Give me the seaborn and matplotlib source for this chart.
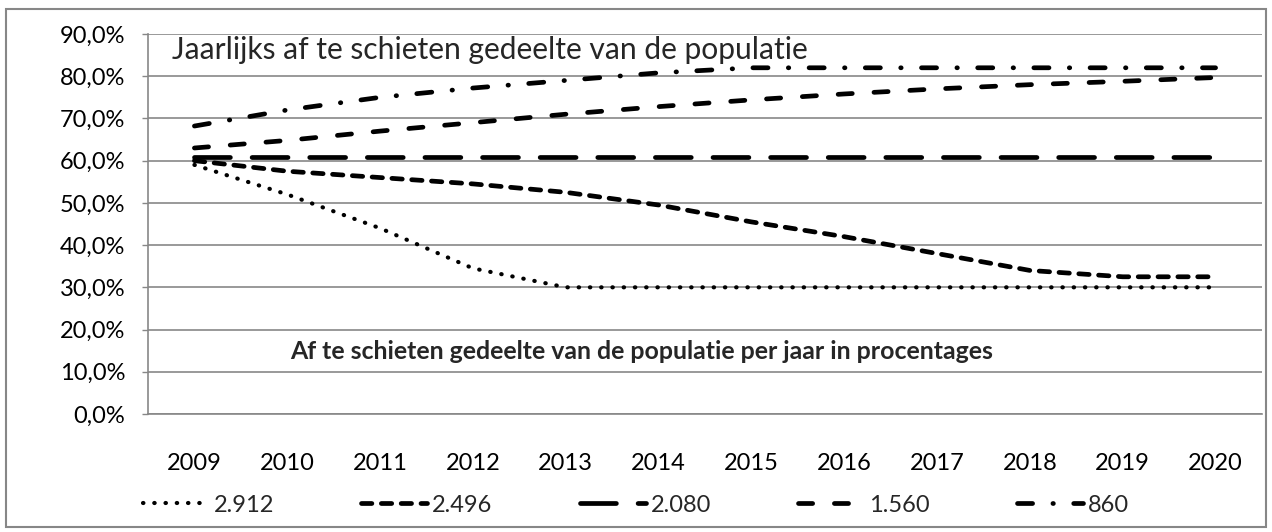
import numpy as np
import pandas as pd
import seaborn as sns
import matplotlib.pyplot as plt
from matplotlib.patches import Rectangle
from matplotlib.ticker import FixedLocator, FuncFormatter

sns.set_style("white")
plt.rcParams['font.family'] = ['Lato', 'DejaVu Sans']

years = ["2009", "2010", "2011", "2012", "2013", "2014",
         "2015", "2016", "2017", "2018", "2019", "2020"]
s_2912 = [59.0, 52.0, 44.0, 34.5, 30.0, 30.0, 30.0, 30.0, 30.0, 30.0, 30.0, 30.0]
s_2496 = [60.0, 57.5, 56.0, 54.5, 52.5, 49.5, 45.5, 42.0, 38.0, 34.0, 32.5, 32.5]
s_2080 = [60.8, 60.8, 60.8, 60.8, 60.8, 60.8, 60.8, 60.8, 60.8, 60.8, 60.8, 60.8]
s_1560 = [63.0, 64.8, 67.0, 69.0, 71.0, 72.8, 74.4, 75.8, 77.0, 78.0, 78.8, 79.7]
s_860 = [68.2, 72.0, 75.0, 77.2, 79.0, 80.8, 82.0, 82.0, 82.0, 82.0, 82.0, 82.0]

labels = ["2.912", "2.496", "2.080", "1.560", "860"]
series = [s_2912, s_2496, s_2080, s_1560, s_860]
widths = [3.0, 3.4, 3.4, 3.4, 3.4]
dash_styles = [
    (0, (0.1, 2.6)),
    (0, (2.2, 2.0)),
    (0, (7.6, 4.6)),
    (0, (3.0, 4.6)),
    (0, (3.2, 4.3, 0.1, 4.3)),
]

grey = "#878787"

fig = plt.figure(figsize=(12.72, 5.32), dpi=100)
ax = fig.add_axes([148 / 1272, 1 - 414 / 532, 1114 / 1272, 380 / 532])

for lab, vals, lw, ls in zip(labels, series, widths, dash_styles):
    df = pd.DataFrame({"year": years, "value": vals})
    sns.lineplot(data=df, x="year", y="value", ax=ax, color="black",
                 linewidth=lw, linestyle=ls, label=lab,
                 dash_capstyle="round", solid_capstyle="round")

ax.set_xlim(-0.5, len(years) - 0.5)
ax.set_ylim(0, 90)
ax.set_yticks(np.arange(0, 91, 10))
ax.yaxis.set_major_formatter(FuncFormatter(lambda v, p: f"{v:.1f}%".replace(".", ",")))
ax.grid(axis="y", color=grey, linewidth=1.2)
ax.set_axisbelow(True)
ax.set_xlabel("")
ax.set_ylabel("")

ax.xaxis.set_minor_locator(FixedLocator(np.arange(-0.5, len(years), 1.0)))
ax.tick_params(axis="x", which="major", length=0, pad=28, labelsize=17, colors="black")
ax.tick_params(axis="x", which="minor", length=7, width=1, color=grey, direction="out")
ax.tick_params(axis="y", which="major", length=4.5, width=1, color=grey, pad=12,
               labelsize=17, labelcolor="black")
ax.tick_params(axis="both", bottom=True, left=True)

for side in ["top", "right"]:
    ax.spines[side].set_visible(False)
for side in ["left", "bottom"]:
    ax.spines[side].set_color(grey)
    ax.spines[side].set_linewidth(1.2)

ax.text(24 / 1114, 86.3 / 90, "Jaarlijks af te schieten gedeelte van de populatie",
        transform=ax.transAxes, ha="left", va="center", fontsize=21.6)
ax.text(142 / 1114, 14.7 / 90, "Af te schieten gedeelte van de populatie per jaar in procentages",
        transform=ax.transAxes, ha="left", va="center", fontsize=17.9, fontweight="bold")

handles, labs = ax.get_legend_handles_labels()
ax.get_legend().remove()
fig.legend(handles, labs, loc="center", bbox_to_anchor=(0.5, 1 - 505 / 532), ncol=5,
           frameon=False, fontsize=17, handlelength=2.8, handletextpad=0.2,
           columnspacing=3.7)

fig.add_artist(Rectangle((6 / 1272, 5 / 532), 1260 / 1272, 518 / 532, fill=False,
                         edgecolor=grey, linewidth=1.5, transform=fig.transFigure))

fig.savefig("out.png", dpi=100)
